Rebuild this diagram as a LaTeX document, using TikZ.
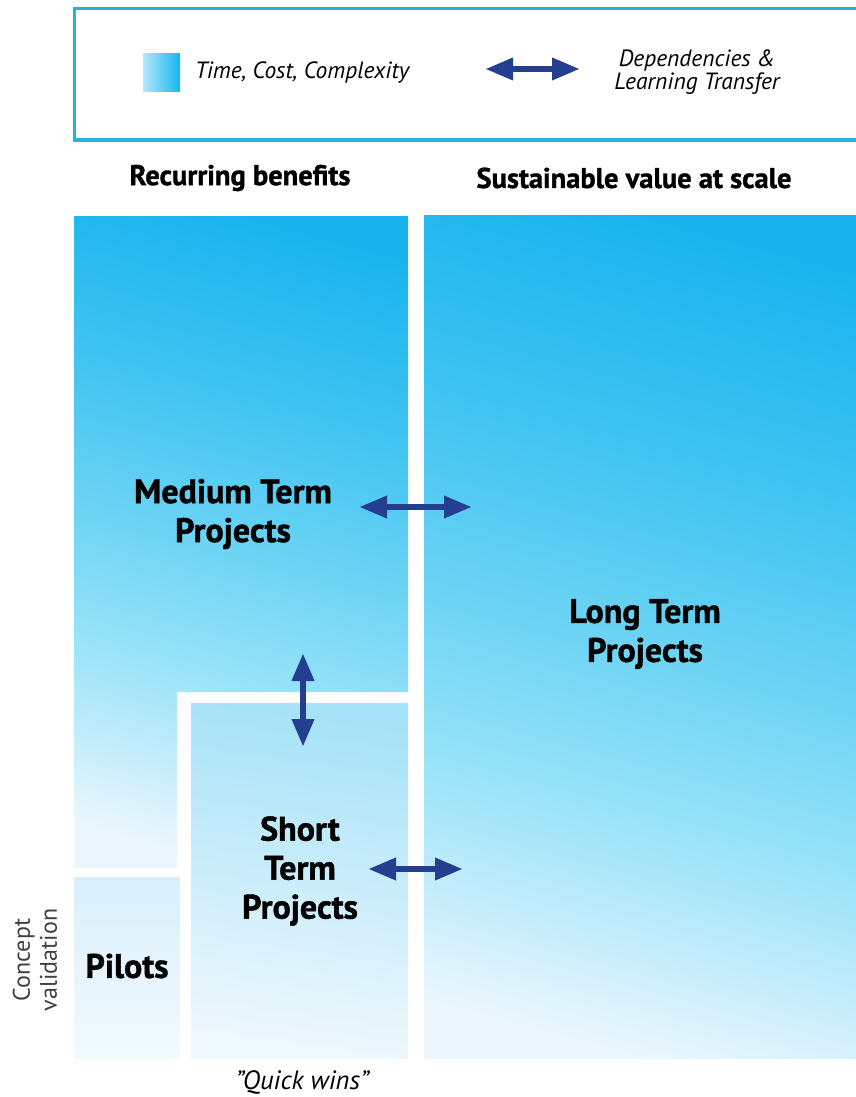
\documentclass[tikz,border=0pt]{standalone}
\usepackage{fontspec}
\setmainfont{PT Sans}
\newfontfamily\heavyfont{PT Sans Bold}[FakeBold=1.2]
\usetikzlibrary{arrows.meta}
\definecolor{frame}{HTML}{29AEDD}
\definecolor{arrowblue}{HTML}{243F8F}
\definecolor{gA}{HTML}{ECF7FD}
\definecolor{gB}{HTML}{C5EDFB}
\definecolor{gC}{HTML}{94E2F8}
\definecolor{gD}{HTML}{6ED4F4}
\definecolor{gE}{HTML}{40C4F1}
\definecolor{gF}{HTML}{19B4EE}
\definecolor{sqL}{HTML}{B5E6F9}
\definecolor{sqR}{HTML}{16B6EF}
\definecolor{shortTop}{HTML}{A6E2F8}
\definecolor{shortBot}{HTML}{EFF8FD}
\definecolor{pilTop}{HTML}{D9EFFB}
\definecolor{pilBot}{HTML}{F2FAFE}
\pgfdeclareverticalshading{bluegrad}{100bp}{color(0bp)=(gA); color(28bp)=(gA); color(33.8bp)=(gB); color(41.3bp)=(gC); color(49.1bp)=(gD); color(59.6bp)=(gE); color(71.9bp)=(gF); color(100bp)=(gF)}
\begin{document}
\begin{tikzpicture}[x=1pt,y=-1pt,
  dep/.style={arrowblue, line width=6.5pt,
    {Triangle[length=28pt,width=21pt]}-{Triangle[length=28pt,width=21pt]}},
  legtext/.style={font=\itshape\fontsize{23.5}{23}\selectfont, inner sep=0pt},
  headtext/.style={font=\heavyfont\fontsize{28.5}{32}\selectfont, inner sep=0pt},
  blocktext/.style={font=\heavyfont\fontsize{34}{39}\selectfont, align=center, inner sep=0pt},
  sidetext/.style={font=\fontsize{24}{27}\selectfont, text=black!75, align=center, inner sep=0pt},
  bigshade/.style={shading=bluegrad}]
\useasboundingbox (0,0) rectangle (856,1097);
\clip (0,0) rectangle (856,1097);
% legend
\draw[frame, line width=3pt] (74,9) rectangle (890,140);
\node[left color=sqL, right color=sqR, minimum width=37pt, minimum height=38pt, inner sep=0pt] (sq) at (161.5,73) {};
\node[legtext, anchor=west] (tcc) at (195,73) {Time, Cost, Complexity};
\coordinate (la1) at (485,69);
\coordinate (la2) at (580,69);
\draw[dep] (la1) -- (la2);
\node[legtext, align=center] (dlt) at (697,72) {Dependencies \&\\Learning Transfer};
% headers
\node[headtext] (rb) at (240,178) {Recurring benefits};
\node[headtext] (sv) at (634,178) {Sustainable value at scale};
% medium block (tilted gradient)
\coordinate (mc) at (241,542);
\begin{scope}
  \clip (74,216) -- (408,216) -- (408,692) -- (177,692) -- (177,868) -- (74,868) -- cycle;
  \begin{scope}[transform canvas={rotate around={-15:(mc)}}]
    \shade[bigshade] (-9,182) rectangle (491,902);
  \end{scope}
\end{scope}
% long block (tilted gradient)
\coordinate (lc) at (640,636.5);
\begin{scope}
  \clip (424,215) rectangle (856,1058);
  \begin{scope}[transform canvas={rotate around={-15:(lc)}}]
    \shade[bigshade] (320,171.5) rectangle (960,1101.5);
  \end{scope}
\end{scope}
\shade[top color=shortTop, bottom color=shortBot, shading angle=-8] (191,703) rectangle (408,1058);
\shade[top color=pilTop, bottom color=pilBot] (74,877) rectangle (180,1058);
% labels
\node[blocktext] (med) at (233,514) {Medium Term\\Projects};
\node[blocktext] (long) at (645,634) {Long Term\\Projects};
\node[blocktext] (short) at (300,871) {Short\\Term\\Projects};
\node[blocktext] (pil) at (127,966) {Pilots};
\node[sidetext, rotate=90] (cv) at (35,960) {Concept\\validation};
\node[legtext, font=\itshape\fontsize{26.5}{30}\selectfont] (qw) at (302,1082) {"Quick wins"};
% dependency arrows
\coordinate (a1) at (359,507);
\coordinate (a2) at (472,507);
\draw[dep] (a1) -- (a2);
\coordinate (b1) at (303,653);
\coordinate (b2) at (303,747);
\draw[dep] (b1) -- (b2);
\coordinate (c1) at (368,869);
\coordinate (c2) at (463,869);
\draw[dep] (c1) -- (c2);
\end{tikzpicture}
\end{document}
